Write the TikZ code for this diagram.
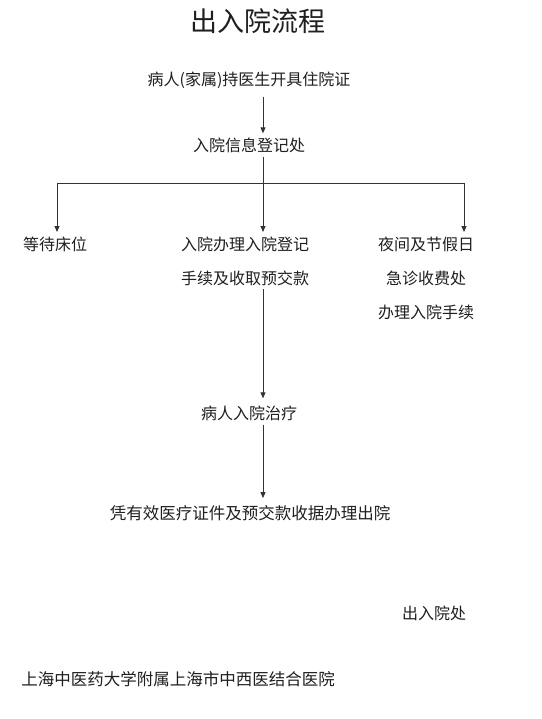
\documentclass[tikz,border=0pt]{standalone}
\usepackage{fontspec}
\newfontfamily\cjk{Noto Sans CJK SC}
\usetikzlibrary{arrows.meta}
\begin{document}
\begin{tikzpicture}[x=1pt,y=-1pt,
  txt/.style={inner sep=0pt,font=\cjk\fontsize{16}{34}\selectfont,text=black!88,align=center},
  conn/.style={draw=black!80,line width=0.9pt},
  arr/.style={conn,-{Triangle[length=6pt,width=5pt]}}]
\useasboundingbox[fill=white] (0,0) rectangle (541,719);
\node[inner sep=0pt,font=\cjk\fontsize{27}{30}\selectfont,text=black!88] (title) at (258,21) {出入院流程};
\coordinate (sp) at (263,0);
\node[txt] (n1) at (249,80) {病人(家属)持医生开具住院证};
\node[txt] (n2) at (249,145) {入院信息登记处};
\node[txt,anchor=north] (c1) at (55,237) {等待床位};
\node[txt,anchor=north] (c2) at (245,237) {入院办理入院登记\\手续及收取预交款};
\node[txt,anchor=north] (c3) at (426,237) {夜间及节假日\\急诊收费处\\办理入院手续};
\node[txt] (n4) at (249,413) {病人入院治疗};
\node[txt,font=\cjk\fontsize{16.5}{20}\selectfont] (n5) at (250,513) {凭有效医疗证件及预交款收据办理出院};
\node[txt] (dept) at (434,613) {出入院处};
\node[txt,font=\cjk\fontsize{16.5}{20}\selectfont] (hosp) at (178,679) {上海中医药大学附属上海市中西医结合医院};
\coordinate (jl) at (57,183);
\coordinate (jm) at (263,183);
\coordinate (jr) at (464,183);
\draw[arr] ([yshift=-8]n1.south -| sp) -- ([yshift=4]n2.north -| sp);
\draw[conn] ([yshift=-4]n2.south -| sp) -- (jm);
\draw[conn] (jl) -- (jr);
\draw[arr] (jl) -- ([yshift=5]c1.north -| jl);
\draw[arr] (jm) -- ([yshift=5]c2.north -| jm);
\draw[arr] (jr) -- ([yshift=5]c3.north -| jr);
\draw[arr] ([yshift=-3]c2.south -| sp) -- ([yshift=7]n4.north -| sp);
\draw[arr] ([yshift=-4]n4.south -| sp) -- ([yshift=7]n5.north -| sp);
\end{tikzpicture}
\end{document}
